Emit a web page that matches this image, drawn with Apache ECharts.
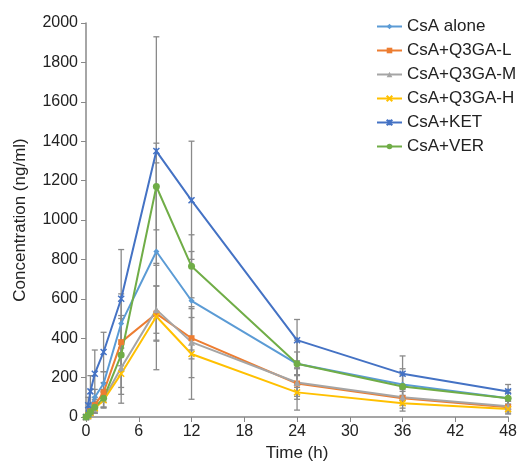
<!DOCTYPE html>
<html>
<head>
<meta charset="utf-8">
<script src="https://cdn.jsdelivr.net/npm/echarts@6/dist/echarts.min.js"></script>
<style>
  html, body { margin: 0; padding: 0; background: #fff; }
  #main { width: 520px; height: 470px; }
</style>
</head>
<body>
<div id="main"></div>
<script>
// sampling times (h)
var times = [0, 0.25, 0.5, 1, 2, 4, 8, 12, 24, 36, 48];

var names = ['CsA alone', 'CsA+Q3GA-L', 'CsA+Q3GA-M', 'CsA+Q3GA-H', 'CsA+KET', 'CsA+VER'];

// mean concentration (ng/ml)
var csaAlone = [0, 20, 50, 100, 170, 475, 840, 590, 270, 165, 95];
var q3gaL    = [0, 10, 30, 60, 125, 380, 525, 400, 170, 95, 50];
var q3gaM    = [0, 5, 20, 45, 90, 250, 545, 380, 175, 100, 55];
var q3gaH    = [0, 5, 20, 45, 85, 220, 510, 320, 125, 70, 40];
var ket      = [0, 60, 130, 220, 330, 600, 1350, 1100, 390, 220, 130];
var ver      = [0, 10, 25, 50, 95, 315, 1170, 765, 270, 155, 95];

// standard deviations
var sdAlone = [0, 10, 20, 40, 60, 150, 450, 250, 120, 80, 40];
var sdL     = [0, 5, 15, 30, 50, 120, 140, 105, 80, 50, 30];
var sdM     = [0, 5, 10, 25, 40, 100, 120, 180, 70, 40, 25];
var sdH     = [0, 5, 10, 25, 40, 150, 270, 230, 90, 40, 25];
var sdKet   = [0, 40, 80, 120, 100, 250, 580, 300, 105, 90, 35];
var sdVer   = [0, 5, 15, 30, 45, 200, 220, 160, 60, 60, 30];

var means = [csaAlone, q3gaL, q3gaM, q3gaH, ket, ver];
var sds = [sdAlone, sdL, sdM, sdH, sdKet, sdVer];
var colors = ['#5B9BD5', '#ED7D31', '#A5A5A5', '#FFC000', '#4472C4', '#70AD47'];
var crossPath = 'path://M0,0L10,10M10,0L0,10';
var starPath = 'path://M0,0L10,10M10,0L0,10M5,0L5,10';
var symbols = ['diamond', 'rect', 'triangle', crossPath, starPath, 'circle'];
var symbolSizes = [6, 6, 7, 6, 6, 7];

var chart = echarts.init(document.getElementById('main'));

var series = [];
// error bars first (drawn underneath)
for (var s = 0; s < means.length; s++) {
    var errData = [];
    for (var i = 0; i < times.length; i++) {
        if (sds[s][i] > 0) {
            errData.push([times[i], means[s][i] - sds[s][i], means[s][i] + sds[s][i]]);
        }
    }
    series.push({
        type: 'custom',
        name: names[s] + ' SD',
        silent: true,
        z: 1,
        renderItem: function (params, api) {
            var x = api.value(0);
            var lo = api.coord([x, Math.max(api.value(1), 0)]);
            var hi = api.coord([x, api.value(2)]);
            var cap = 3;
            var st = { stroke: '#8a8a8a', lineWidth: 1.3 };
            return {
                type: 'group',
                children: [
                    { type: 'line', shape: { x1: lo[0], y1: lo[1], x2: hi[0], y2: hi[1] }, style: st },
                    { type: 'line', shape: { x1: hi[0] - cap, y1: hi[1], x2: hi[0] + cap, y2: hi[1] }, style: st },
                    { type: 'line', shape: { x1: lo[0] - cap, y1: lo[1], x2: lo[0] + cap, y2: lo[1] }, style: st }
                ]
            };
        },
        encode: { x: 0, y: [1, 2] },
        data: errData
    });
}
for (var s = 0; s < means.length; s++) {
    var d = [];
    for (var i = 0; i < times.length; i++) d.push([times[i], means[s][i]]);
    series.push({
        type: 'line',
        name: names[s],
        z: 3,
        data: d,
        symbol: symbols[s],
        symbolSize: symbolSizes[s],
        showAllSymbol: true,
        lineStyle: { color: colors[s], width: 2 },
        itemStyle: { color: colors[s], borderColor: colors[s], borderWidth: (s === 3 || s === 4) ? 1.5 : 0 },
        emphasis: { disabled: true },
        animation: false
    });
}

var option = {
    animation: false,
    textStyle: { fontFamily: 'Liberation Sans, Arial, sans-serif' },
    grid: { left: 86, right: 9, top: 23, bottom: 53 },
    legend: {
        data: names,
        orient: 'vertical',
        left: 371,
        top: 13,
        itemWidth: 25,
        itemHeight: 7,
        itemGap: 7,
        textStyle: { fontSize: 17, color: '#222' }
    },
    xAxis: {
        type: 'value',
        min: 0,
        max: 48,
        interval: 6,
        name: 'Time (h)',
        nameLocation: 'middle',
        nameGap: 27,
        nameTextStyle: { fontSize: 17, color: '#222' },
        axisLine: { lineStyle: { color: '#888', width: 1.5 } },
        axisTick: { show: true, length: 5, lineStyle: { color: '#888' } },
        axisLabel: { fontSize: 16, color: '#222', margin: 7 },
        splitLine: { show: false }
    },
    yAxis: {
        type: 'value',
        min: 0,
        max: 2000,
        interval: 200,
        name: 'Concentration (ng/ml)',
        nameLocation: 'middle',
        nameGap: 57,
        nameTextStyle: { fontSize: 17, color: '#222' },
        axisLine: { show: true, lineStyle: { color: '#888', width: 1.5 } },
        axisTick: { show: true, length: 5, lineStyle: { color: '#888' } },
        axisLabel: { fontSize: 16, color: '#222', margin: 8, formatter: function (v) { return String(v); } },
        splitLine: { show: false }
    },
    series: series
};

chart.setOption(option);
</script>
</body>
</html>
